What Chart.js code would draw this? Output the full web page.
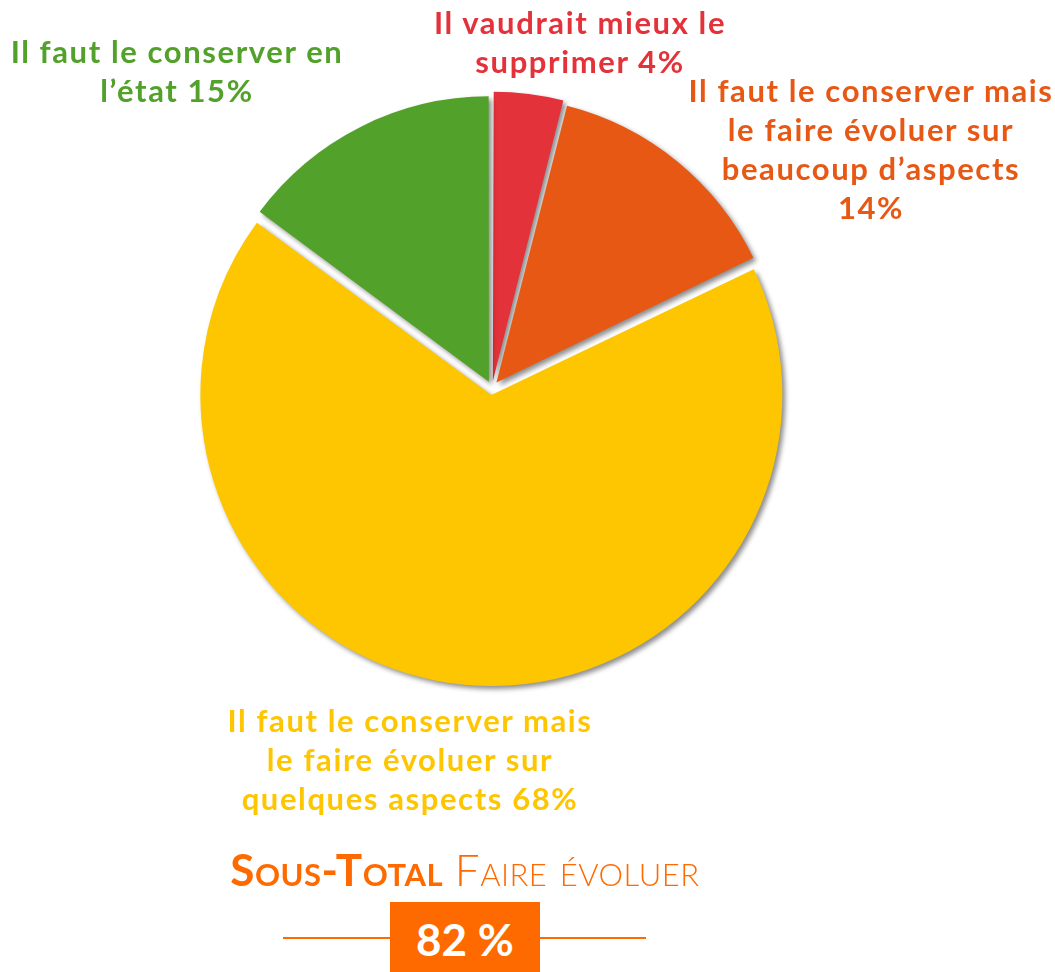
<!DOCTYPE html>
<html>
<head>
<meta charset="utf-8">
<script src="https://cdn.jsdelivr.net/npm/chart.js@4.4.1/dist/chart.umd.min.js"></script>
<style>
  body { margin: 0; background: #fff; }
  #wrap { position: relative; width: 1055px; height: 972px; overflow: hidden; font-family: Lato, "Noto Sans", sans-serif; }
  #chartBox { position: absolute; left: 0; top: 0; width: 1055px; height: 972px; }
  .lbl { position: absolute; text-align: center; font-weight: bold; font-size: 31px; line-height: 39px; letter-spacing: 1.6px; white-space: nowrap; }
  #subTitle { position: absolute; left: 0; width: 930px; top: 843px; text-align: center; color: #ff6a00; font-size: 44px; font-variant: small-caps; letter-spacing: 0.5px; }
  #subTitle b { font-weight: bold; }
  #subTitle span { font-weight: 300; }
  .rule { position: absolute; top: 937px; height: 2px; background: #ff6a00; }
  #totalBox { position: absolute; left: 390px; top: 902px; width: 150px; height: 75px; background: #ff6a00; color: #fff; font-weight: bold; font-size: 44px; line-height: 74px; text-align: center; }
</style>
</head>
<body>
<div id="wrap">
  <div id="chartBox"><canvas id="pieChart"></canvas></div>
  <div id="labels"></div>
  <div id="subTitle"><b>Sous-Total</b> <span>Faire évoluer</span></div>
  <div class="rule" style="left:283px;width:107px"></div>
  <div class="rule" style="left:540px;width:106px"></div>
  <div id="totalBox"></div>
</div>
<script>
// data
let categories = [
  'Il vaudrait mieux le supprimer',
  'Il faut le conserver mais le faire évoluer sur beaucoup d\u2019aspects',
  'Il faut le conserver mais le faire évoluer sur quelques aspects',
  'Il faut le conserver en l\u2019état'
];
let values = [4, 14, 68, 15];
let sliceColors = ['#e3323a', '#e85815', '#fdc600', '#52a12a'];
let subTotal = 82;

// label layout: centre x, top, and number of words on each line
let labelBoxes = [
  [580, 3, [4, 2]],
  [871, 71, [5, 4, 2, 1]],
  [410, 701, [5, 4, 3]],
  [177, 32, [5, 2]]
];

let labelsDiv = document.querySelector('#labels');
let html = '';
for (let i = 0; i < categories.length; i++) {
  let b = labelBoxes[i];
  let words = (categories[i] + ' ' + values[i] + '%').split(' ');
  let lines = [];
  let k = 0;
  for (let n of b[2]) {
    lines.push(words.slice(k, k + n).join(' '));
    k += n;
  }
  html += `<div class="lbl" style="left:${b[0] - 250}px;top:${b[1]}px;width:500px;color:${sliceColors[i]}">${lines.join('<br>')}</div>`;
}
labelsDiv.innerHTML = html;
document.querySelector('#totalBox').textContent = subTotal + ' %';

// drop shadow under the slices
let shadowPlugin = {
  id: 'shadow',
  beforeDatasetsDraw(chart) {
    let ctx = chart.ctx;
    ctx.save();
    ctx.shadowColor = 'rgba(0,0,0,0.45)';
    ctx.shadowBlur = 5;
    ctx.shadowOffsetX = 3;
    ctx.shadowOffsetY = 3;
  },
  afterDatasetsDraw(chart) {
    chart.ctx.restore();
  }
};

let chart = new Chart(document.querySelector('#pieChart'), {
  type: 'pie',
  data: {
    labels: categories,
    datasets: [{
      data: values,
      backgroundColor: sliceColors,
      borderWidth: 0,
      offset: 28
    }]
  },
  options: {
    responsive: true,
    maintainAspectRatio: false,
    animation: false,
    radius: 284,
    layout: { padding: { left: 0, right: 71, top: 0, bottom: 196 } },
    plugins: {
      legend: { display: false },
      tooltip: { enabled: false }
    }
  },
  plugins: [shadowPlugin]
});
</script>
</body>
</html>
